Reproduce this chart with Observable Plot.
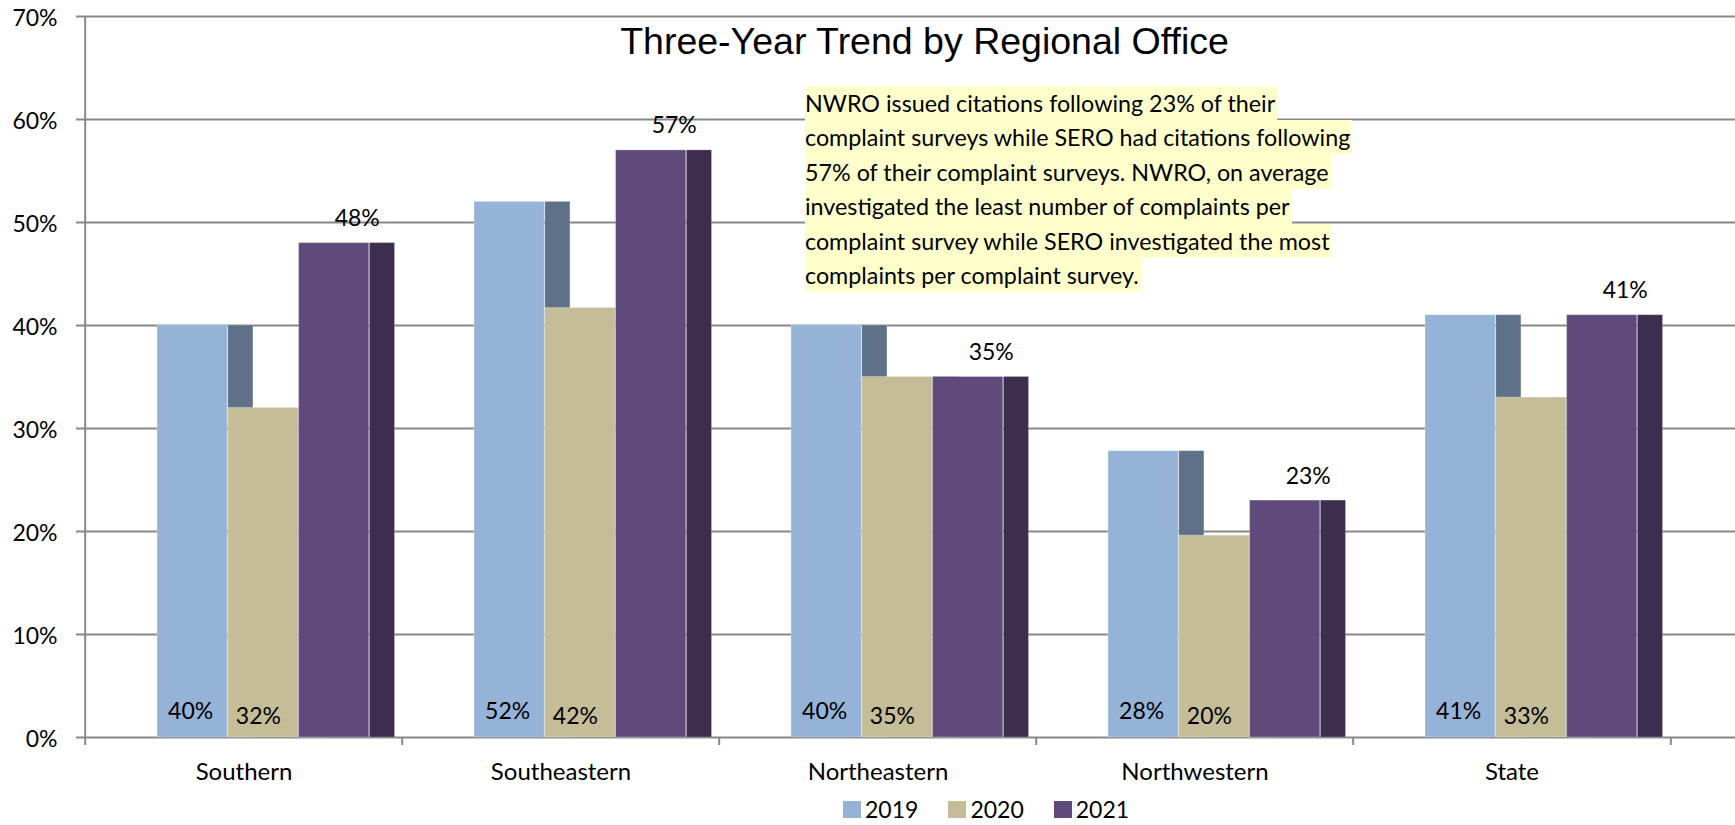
<!DOCTYPE html>
<html>
<head>
<meta charset="utf-8">
<script src="https://cdn.jsdelivr.net/npm/d3@7"></script>
<script src="https://cdn.jsdelivr.net/npm/@observablehq/plot@0.6"></script>
<style>
  html, body { margin: 0; padding: 0; background: #fff; }
  #wrap { position: relative; width: 1735px; height: 825px; overflow: hidden; background: #fff; }
  #chart svg { display: block; }
  #note { position: absolute; left: 805px; top: 86px; font-family: Lato, sans-serif; font-size: 23.3px; color: #000; }
  #note div { width: fit-content; height: 34.4px; line-height: 34.4px; background: #ffffcc; white-space: nowrap; padding-right: 2px; }
  #legend { position: absolute; left: 843px; top: 794px; }
  #legend > div { font-family: Lato, sans-serif !important; font-size: 23px !important; color: #000 !important; margin: 0 !important; height: 30px !important; min-height: 30px !important; display: flex !important; align-items: center !important; }
  #legend span { margin-right: 30px !important; display: inline-flex !important; align-items: center !important; line-height: 26px; }
  #legend span > svg { margin-right: 4px !important; }
</style>
</head>
<body>
<div id="wrap">
  <div id="chart"></div>
  <div id="note"></div>
  <div id="legend"></div>
</div>
<script>
// ---- data ----
const regions = ["Southern", "Southeastern", "Northeastern", "Northwestern", "State"];
const years = ["2019", "2020", "2021"];
const v2019 = [40, 52, 40, 27.8, 41];
const v2020 = [32, 41.7, 35, 19.6, 33];
const v2021 = [48, 57, 35, 23, 41];
const yTicks = [0, 10, 20, 30, 40, 50, 60, 70];
const title = "Three-Year Trend by Regional Office";
const noteLines = [
  "NWRO issued citations following 23% of their",
  "complaint surveys while SERO had citations following",
  "57% of their complaint surveys. NWRO, on average",
  "investigated the least number of complaints per",
  "complaint survey while SERO investigated the most",
  "complaints per complaint survey."
];
const frontColors = ["#95b3d7", "#c4bd97", "#604a7b"];
const sideColors = ["#5f7189", "#8a8468", "#3d2e4f"];

// ---- layout ----
const W = 1735, H = 797, ML = 83, MR = 64, MT = 16, MB = 60;
const BAND = (W - ML - MR) / regions.length;
const LG = 72, BW = 70.8, DEPTH = 25.7;
const GRID = "#888888";

const series = [v2019, v2020, v2021];
const rows = years.flatMap((yr, i) => regions.map((r, j) => ({region: r, year: yr, value: series[i][j]})));
const centerOff = i => LG + i * BW + BW / 2 - BAND / 2;
const fmt = d => Math.round(d.value) + "%";

const marks = [
  Plot.ruleY(yTicks, {y: d => d, stroke: GRID, strokeWidth: 2, insetLeft: -7, insetRight: -MR}),
  Plot.ruleX([regions[0]], {x: d => d, dx: -BAND / 2, stroke: GRID, strokeWidth: 2}),
  Plot.ruleX(regions, {x: d => d, y1: () => 0, y2: () => 0, insetBottom: -8, dx: -BAND / 2, stroke: GRID, strokeWidth: 2}),
  Plot.ruleX([regions[regions.length - 1]], {x: d => d, y1: () => 0, y2: () => 0, insetBottom: -8, dx: BAND / 2, stroke: GRID, strokeWidth: 2})
];

years.forEach((yr, i) => {
  const d = rows.filter(r => r.year === yr);
  marks.push(Plot.barY(d, {x: "region", y: "value", fill: "year",
    insetLeft: LG + i * BW, insetRight: BAND - LG - (i + 1) * BW,
    stroke: "#ffffff", strokeOpacity: 0.25, strokeWidth: 1}));
  marks.push(Plot.barY(d, {x: "region", y: "value", fill: sideColors[i],
    insetLeft: LG + (i + 1) * BW, insetRight: BAND - LG - (i + 1) * BW - DEPTH,
    stroke: "#ffffff", strokeOpacity: 0.2, strokeWidth: 1}));
});

marks.push(
  Plot.text(rows.filter(r => r.year === years[0]), {x: "region", y: () => 0, text: fmt, dx: centerOff(0) - 2, dy: -19, lineAnchor: "bottom", fontSize: 23, fill: "#000"}),
  Plot.text(rows.filter(r => r.year === years[1]), {x: "region", y: () => 0, text: fmt, dx: centerOff(1) - 5, dy: -14, lineAnchor: "bottom", fontSize: 23, fill: "#000"}),
  Plot.text(rows.filter(r => r.year === years[2]), {x: "region", y: "value", text: fmt, dx: centerOff(2) + 23, dy: -17, lineAnchor: "bottom", fontSize: 23, fill: "#000"}),
  Plot.text([title], {text: d => d, frameAnchor: "top", dx: 47, dy: 37, lineAnchor: "bottom", fontSize: 37.5, fontFamily: "'Liberation Sans', Arial, sans-serif", fill: "#000"}),
  Plot.axisY({ticks: yTicks, tickFormat: d => d + "%", tickSize: 0, tickPadding: 26, fontSize: 23, dy: 2, label: null}),
  Plot.axisX({tickSize: 0, tickPadding: 25, fontSize: 24, label: null})
);

const chart = Plot.plot({
  width: W, height: H,
  marginLeft: ML, marginRight: MR, marginTop: MT, marginBottom: MB,
  x: {type: "band", domain: regions, padding: 0},
  y: {domain: [0, 70]},
  color: {domain: years, range: frontColors},
  style: {fontFamily: "Lato, sans-serif", fontSize: "23px", color: "#000", background: "#fff", overflow: "visible"},
  marks
});
document.getElementById("chart").appendChild(chart);

d3.select("#note").selectAll("div").data(noteLines).join("div").text(d => d);

const leg = Plot.legend({
  color: {type: "ordinal", domain: years, range: frontColors},
  swatchWidth: 18, swatchHeight: 17,
  style: {fontFamily: "Lato, sans-serif", fontSize: "23px", color: "#000"}
});
document.getElementById("legend").appendChild(leg);
</script>
</body>
</html>
